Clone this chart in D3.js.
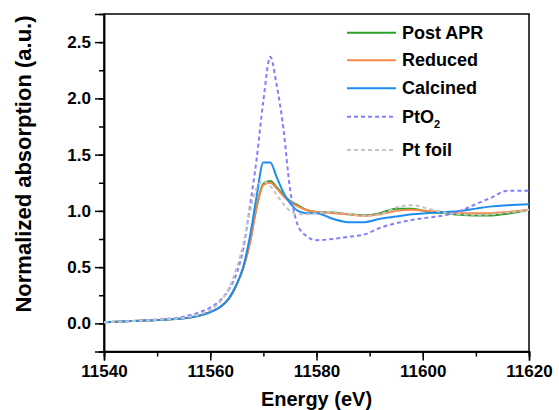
<!DOCTYPE html>
<html>
<head>
<meta charset="utf-8">
<script src="https://cdn.jsdelivr.net/npm/d3@7"></script>
<style>
    body { margin: 0; background: #fff; }
    text { font-family: "Liberation Sans", Arial, sans-serif; font-weight: bold; fill: #000; }
</style>
</head>
<body>
<script>
    // energies (eV) shared by every spectrum
    var energy = [11540, 11545, 11550, 11555, 11558, 11560, 11562, 11563.5, 11565, 11566.2,
                  11567.5, 11568.7, 11570, 11571.3, 11572.5, 11573.8, 11575, 11576.5, 11578, 11580,
                  11583, 11586, 11589, 11592, 11595, 11598, 11601, 11604, 11607, 11610,
                  11613, 11616, 11620];

    var postAPR  = [0.01, 0.02, 0.03, 0.045, 0.07, 0.10, 0.15, 0.22, 0.35, 0.49,
                    0.73, 1.03, 1.24, 1.265, 1.21, 1.14, 1.09, 1.05, 1.01, 0.99,
                    0.985, 0.97, 0.96, 0.98, 1.02, 1.02, 0.99, 0.98, 0.965, 0.96,
                    0.96, 0.975, 1.01];
    var reduced  = [0.01, 0.02, 0.03, 0.045, 0.07, 0.10, 0.15, 0.22, 0.35, 0.49,
                    0.72, 1.02, 1.23, 1.25, 1.20, 1.13, 1.08, 1.04, 1.01, 0.99,
                    0.98, 0.97, 0.955, 0.97, 1.00, 1.01, 1.00, 0.99, 0.98, 0.98,
                    0.98, 0.99, 1.01];
    var calcined = [0.01, 0.02, 0.03, 0.045, 0.07, 0.10, 0.15, 0.22, 0.35, 0.50,
                    0.78, 1.12, 1.43, 1.43, 1.30, 1.16, 1.07, 1.00, 0.98, 0.98,
                    0.93, 0.90, 0.90, 0.93, 0.95, 0.97, 0.98, 0.99, 1.00, 1.02,
                    1.04, 1.05, 1.06];
    var ptO2     = [0.01, 0.02, 0.035, 0.06, 0.10, 0.14, 0.21, 0.30, 0.45, 0.66,
                    1.05, 1.45, 1.98, 2.37, 2.12, 1.72, 1.20, 0.87, 0.78, 0.74,
                    0.75, 0.77, 0.79, 0.85, 0.89, 0.92, 0.94, 0.96, 1.00, 1.06,
                    1.12, 1.18, 1.18];
    var ptFoil   = [0.01, 0.02, 0.032, 0.05, 0.08, 0.12, 0.20, 0.31, 0.50, 0.70,
                    1.00, 1.20, 1.265, 1.22, 1.14, 1.06, 1.00, 0.97, 0.97, 0.98,
                    0.99, 0.975, 0.955, 0.97, 1.03, 1.05, 1.02, 0.985, 0.97, 0.965,
                    0.97, 0.985, 1.01];

    var seriesNames = ["Post APR", "Reduced", "Calcined", "PtO2", "Pt foil"];
    var xTicks = [11540, 11560, 11580, 11600, 11620];
    var yTicks = [0, 0.5, 1.0, 1.5, 2.0, 2.5];

    var series = [
        { name: seriesNames[0], values: postAPR,  color: "#2ca02c", dash: null },
        { name: seriesNames[1], values: reduced,  color: "#f5894a", dash: null },
        { name: seriesNames[2], values: calcined, color: "#1e8cf0", dash: null },
        { name: seriesNames[3], values: ptO2,     color: "#8080ff", dash: "4,3" },
        { name: seriesNames[4], values: ptFoil,   color: "#c4c4c4", dash: "4,3" }
    ];

    var svgWidth = 559, svgHeight = 410;
    var plotL = 104, plotR = 529, plotT = 14, plotB = 351.5;

    var svg = d3.select("body").append("svg")
        .attr("width", svgWidth)
        .attr("height", svgHeight);

    var x = d3.scaleLinear().domain([11540, 11620]).range([plotL, plotR]);
    var y = d3.scaleLinear().domain([-0.25, 2.75]).range([plotB, plotT]);

    // minor ticks first, then major with labels
    svg.append("g")
        .attr("transform", "translate(0," + plotB + ")")
        .call(d3.axisBottom(x).tickValues(d3.range(11540, 11621, 10)).tickSize(5).tickFormat(""));
    svg.append("g")
        .attr("transform", "translate(" + plotL + ",0)")
        .call(d3.axisLeft(y).tickValues(d3.range(-0.25, 2.6, 0.25)).tickSize(5).tickFormat(""));

    svg.append("g")
        .attr("transform", "translate(0," + plotB + ")")
        .call(d3.axisBottom(x).tickValues(xTicks).tickSize(9).tickPadding(4).tickFormat(d3.format("d")));
    svg.append("g")
        .attr("transform", "translate(" + plotL + ",0)")
        .call(d3.axisLeft(y).tickValues(yTicks).tickSize(9).tickPadding(4).tickFormat(d3.format(".1f")));

    svg.selectAll(".tick line").attr("stroke", "#000").attr("stroke-width", 1.5);
    svg.selectAll(".domain").attr("stroke", "#000").attr("stroke-width", 1.5);
    svg.selectAll(".tick text").attr("font-size", 17).attr("font-family", "Liberation Sans, Arial, sans-serif").attr("font-weight", "bold");

    // frame
    svg.append("rect")
        .attr("x", plotL).attr("y", plotT)
        .attr("width", plotR - plotL).attr("height", plotB - plotT)
        .attr("fill", "none").attr("stroke", "#000").attr("stroke-width", 1.5);

    var line = d3.line()
        .x(function(d, i) { return x(energy[i]); })
        .y(function(d) { return y(d); })
        .curve(d3.curveMonotoneX);

    svg.append("defs").append("clipPath").attr("id", "clip")
        .append("rect").attr("x", plotL).attr("y", plotT).attr("width", plotR - plotL).attr("height", plotB - plotT);

    svg.append("g").attr("clip-path", "url(#clip)")
        .selectAll("path")
        .data(series)
        .enter()
        .append("path")
        .attr("d", function(d) { return line(d.values); })
        .attr("fill", "none")
        .attr("stroke", function(d) { return d.color; })
        .attr("stroke-width", 2)
        .attr("stroke-dasharray", function(d) { return d.dash; });

    // legend
    var legendY = [32.7, 60.3, 88.3, 116.7, 150];
    var legend = svg.append("g");
    series.forEach(function(s, i) {
        legend.append("line")
            .attr("x1", 347).attr("x2", 396)
            .attr("y1", legendY[i]).attr("y2", legendY[i])
            .attr("stroke", s.color)
            .attr("stroke-width", 2)
            .attr("stroke-dasharray", s.dash);
        var t = legend.append("text")
            .attr("x", 402)
            .attr("y", legendY[i] + 6)
            .attr("font-size", 18);
        if (s.name === "PtO2") {
            t.append("tspan").text("PtO");
            t.append("tspan").attr("font-size", 11).attr("dy", 5).text("2");
        } else {
            t.text(s.name);
        }
    });

    // axis titles
    svg.append("text")
        .attr("x", (plotL + plotR) / 2)
        .attr("y", 406)
        .attr("text-anchor", "middle")
        .attr("font-size", 20)
        .text("Energy (eV)");

    svg.append("text")
        .attr("transform", "translate(31,164) rotate(-90)")
        .attr("text-anchor", "middle")
        .attr("font-size", 22)
        .text("Normalized absorption (a.u.)");
</script>
</body>
</html>
